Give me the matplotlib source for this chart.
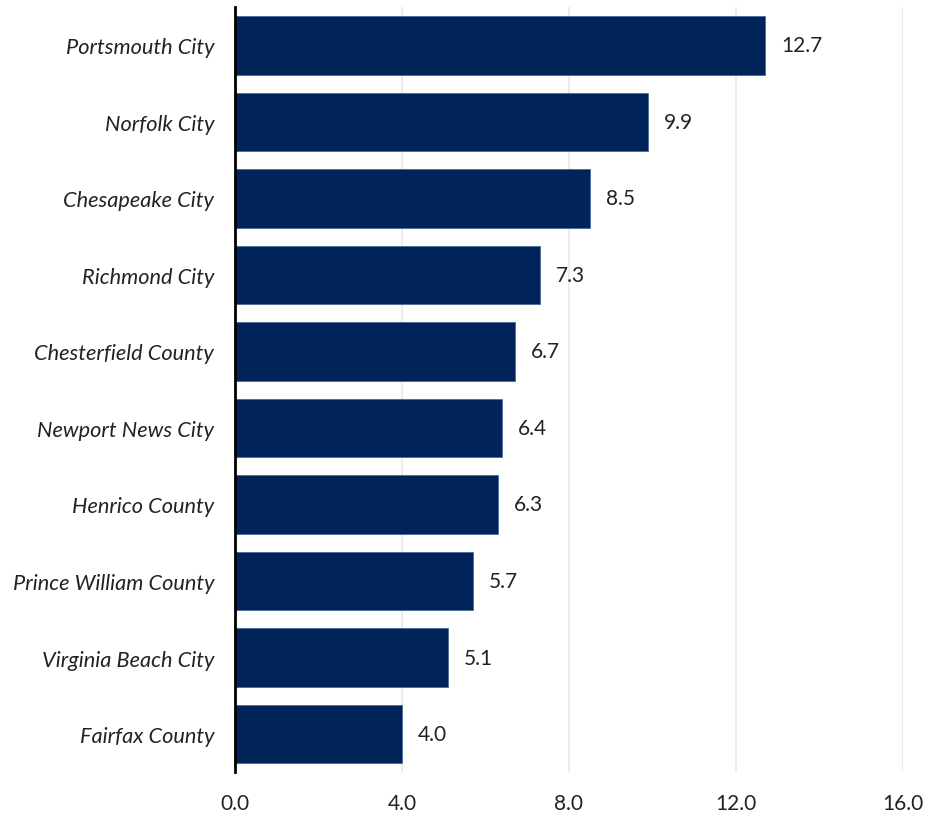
import matplotlib.pyplot as plt
import numpy as np

plt.rcParams['font.family'] = 'Lato'

# Localities and their rates
localities = [
    'Portsmouth City', 'Norfolk City', 'Chesapeake City', 'Richmond City',
    'Chesterfield County', 'Newport News City', 'Henrico County',
    'Prince William County', 'Virginia Beach City', 'Fairfax County',
]
rates = [12.7, 9.9, 8.5, 7.3, 6.7, 6.4, 6.3, 5.7, 5.1, 4.0]
x_ticks = [0.0, 4.0, 8.0, 12.0, 16.0]

bar_color = '#00235A'

fig = plt.figure(figsize=(9.25, 8.2), dpi=100)
ax = fig.add_axes([0.254, 0.057, 0.722, 0.933])

y = np.arange(len(localities))
ax.barh(y, rates, height=0.77, color=bar_color, edgecolor='#4a6a9a', linewidth=0.6, zorder=3)

for yi, v in zip(y, rates):
    ax.text(v + 0.38, yi, f'{v:.1f}', va='center', ha='left', fontsize=15, color='#222222')

ax.set_xlim(0, 16)
ax.set_ylim(len(localities) - 0.5, -0.5)
ax.set_yticks(y)
ax.set_yticklabels(localities, fontsize=15.7, style='italic', color='#222222')
ax.set_xticks(x_ticks)
ax.set_xticklabels([f'{t:.1f}' for t in x_ticks], fontsize=15, color='#222222')

ax.tick_params(axis='y', length=0, pad=15)
ax.tick_params(axis='x', length=0, pad=15)
ax.grid(axis='x', color='#ececec', linewidth=1.5, zorder=0)
for side in ['top', 'right', 'bottom']:
    ax.spines[side].set_visible(False)
ax.spines['left'].set_color('black')
ax.spines['left'].set_linewidth(2)
ax.spines['left'].set_zorder(4)

plt.savefig('out.png', dpi=100)
